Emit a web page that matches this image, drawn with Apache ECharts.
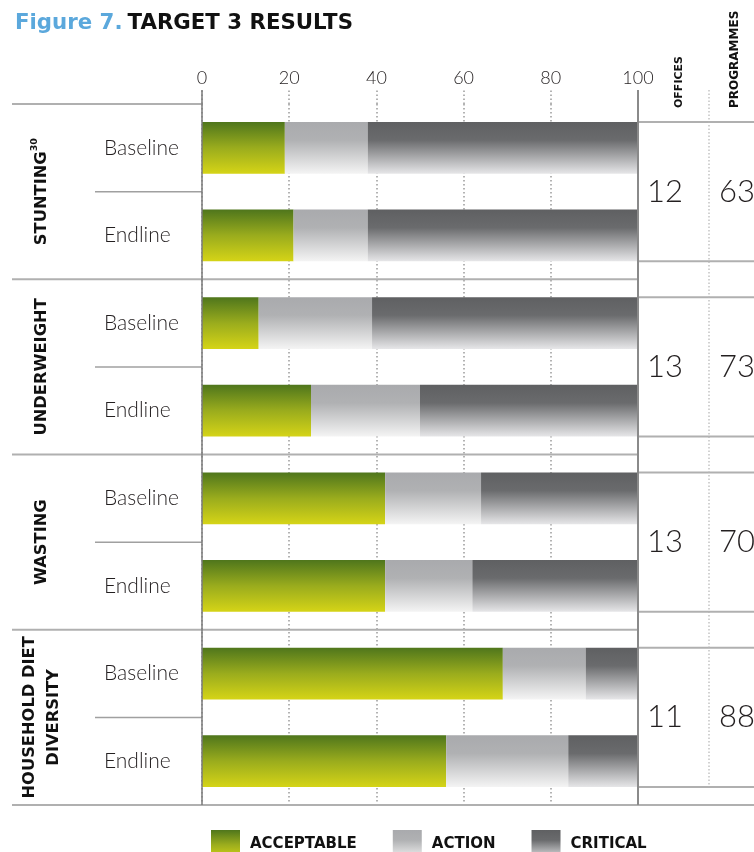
<!DOCTYPE html>
<html><head><meta charset="utf-8">
<script src="https://cdn.jsdelivr.net/npm/echarts@6/dist/echarts.min.js"></script>
<style>html,body{margin:0;padding:0;background:#fff}#c{width:754px;height:852px}</style>
</head><body><div id="c"></div>
<script>
// ---- data ----
const groups = ['STUNTING', 'UNDERWEIGHT', 'WASTING', 'HOUSEHOLD DIET\nDIVERSITY'];
const groupNotes = ['30', '', '', ''];
const rows = ['Baseline', 'Endline'];
const acceptable = [19, 21, 13, 25, 42, 42, 69, 56];
const action = [19, 17, 26, 25, 22, 20, 19, 28];
const critical = [62, 62, 61, 50, 36, 38, 12, 16];
const offices = [12, 13, 13, 11];
const programmes = [63, 73, 70, 88];
const tableHeaders = ['OFFICES', 'PROGRAMMES'];
const seriesNames = ['ACCEPTABLE', 'ACTION', 'CRITICAL'];

const yCats = [];
groups.forEach(g => rows.forEach(r => yCats.push(g + '|' + r)));

function grad(stops) {
  return new echarts.graphic.LinearGradient(0, 0, 0, 1, stops.map(s => ({offset: s[0], color: s[1]})));
}
const colors = [
  grad([[0, '#4f761c'], [0.5, '#9aac1d'], [1, '#d5d417']]),
  grad([[0, '#a9aaad'], [0.35, '#b0b1b3'], [1, '#f4f4f4']]),
  grad([[0, '#5f6062'], [0.35, '#6a6b6d'], [1, '#e6e6e8']])
];
const values = [acceptable, action, critical];

const FONT = 'Lato, "Open Sans", sans-serif';
const BOLD = '"DejaVu Sans", sans-serif';
const chart = echarts.init(document.getElementById('c'), null, {renderer: 'canvas'});

chart.setOption({
  animation: false,
  title: {
    text: '{a|Figure 7.} {b|TARGET 3 RESULTS}',
    left: 10, top: 8,
    textStyle: {rich: {
      a: {color: '#5ba8dc', fontSize: 21.3, fontWeight: 'bold', fontFamily: BOLD},
      b: {color: '#111', fontSize: 21.3, fontWeight: 'bold', fontFamily: BOLD}
    }}
  },
  legend: {
    data: seriesNames, left: 206, top: 825, itemWidth: 29, itemHeight: 29, itemGap: 36,
    icon: 'rect', selectedMode: false,
    textStyle: {fontSize: 15, fontWeight: 'bold', fontFamily: BOLD, color: '#111', padding: [2, 0, 0, 5]}
  },
  grid: {left: 202, right: 116, top: 104, bottom: 47, containLabel: false},
  xAxis: {
    type: 'value', position: 'top', min: 0, max: 100, interval: 20,
    axisLine: {show: false},
    axisTick: {show: true, length: 14, lineStyle: {color: '#9a9a9a', width: 1.5, type: [1.5, 2.5]}},
    splitLine: {show: true, lineStyle: {color: '#9a9a9a', width: 1.5, type: [1.5, 2.5]}},
    axisLabel: {fontSize: 18, fontFamily: FONT, fontWeight: 300, color: '#231f20', margin: 17}
  },
  yAxis: {
    type: 'category', data: yCats, inverse: true,
    axisLine: {show: false}, axisTick: {show: false}, splitLine: {show: false},
    axisLabel: {formatter: v => v.split('|')[1], align: 'left', margin: 98, fontSize: 21,
      fontFamily: FONT, fontWeight: 300, color: '#231f20'}
  },
  series: seriesNames.map((n, i) => ({
    type: 'bar', name: n, stack: 'total', data: values[i], barWidth: '59%',
    itemStyle: {color: colors[i]}, silent: true, z: 3
  }))
});

// ---- decorations positioned through the axes ----
const yc = i => chart.convertToPixel({yAxisIndex: 0}, i);
const xc = v => chart.convertToPixel({xAxisIndex: 0}, v);
const step = yc(1) - yc(0);
const half = step * 0.59 / 2;
const x0 = xc(0), x100 = xc(100);
const yTop = yc(0) - step / 2;
const yBot = yc(yCats.length - 1) + step / 2;
const W = 754;
const g = [];
const line = (x1, y1, x2, y2, stroke, lw, dash) => g.push({
  type: 'line', silent: true, z: 10,
  shape: {x1, y1, x2, y2}, style: {stroke, lineWidth: lw, lineDash: dash || null}
});

// section boundaries
for (let k = 0; k <= groups.length; k++) {
  const y = yc(2 * k) - step / 2;
  let xEnd = x100;
  if (k === 0) xEnd = x0;
  if (k === groups.length) xEnd = W;
  line(12, y, xEnd, y, '#b0b0b0', 2);
}
// row separators inside groups
for (let k = 0; k < groups.length; k++) {
  const y = yc(2 * k) + step / 2;
  line(95, y, x0, y, '#a0a0a0', 1.5);
  // right table lines at bar top / bottom
  line(x100, yc(2 * k) - half, W, yc(2 * k) - half, '#b0b0b0', 2);
  line(x100, yc(2 * k + 1) + half, W, yc(2 * k + 1) + half, '#b0b0b0', 2);
}
// verticals
line(x0, yTop - 14, x0, yBot, '#7a7a7a', 1.5);
line(x100, yTop - 14, x100, yBot, '#8a8a8a', 2);
const xDiv = x100 + 71;
line(xDiv, yTop - 14, xDiv, yc(yCats.length - 1) + half, '#b5b5b5', 1.2, [1.5, 2]);

// group labels
groups.forEach((name, k) => {
  const cy = (yc(2 * k) + yc(2 * k + 1)) / 2;
  const note = groupNotes[k];
  g.push({
    type: 'text', silent: true, z: 10, x: 42, y: cy, rotation: Math.PI / 2,
    style: {
      text: note ? '{m|' + name + '}{s|' + note + '}' : name,
      fontSize: 16.3, fontWeight: 'bold', fontFamily: BOLD, fill: '#111',
      align: 'center', verticalAlign: 'middle', lineHeight: 24,
      rich: {m: {fontSize: 16.3, fontWeight: 'bold', fontFamily: BOLD, fill: '#111', lineHeight: 24},
             s: {fontSize: 9.5, fontWeight: 'bold', fontFamily: BOLD, fill: '#111', verticalAlign: 'top', lineHeight: 24}}
    }
  });
  const tStyle = {fontSize: 31, fontWeight: 300, fontFamily: FONT, fill: '#231f20', align: 'center', verticalAlign: 'middle'};
  g.push({type: 'text', silent: true, z: 10, x: x100 + 27, y: cy, style: Object.assign({text: String(offices[k])}, tStyle)});
  g.push({type: 'text', silent: true, z: 10, x: W - 17, y: cy, style: Object.assign({text: String(programmes[k])}, tStyle)});
});
// table headers
[[x100 + 41, tableHeaders[0], 11], [W - 19, tableHeaders[1], 12]].forEach(([x, t, fs]) => g.push({
  type: 'text', silent: true, z: 10, x, y: yTop + 4, rotation: Math.PI / 2,
  style: {text: t, fontSize: fs, fontWeight: 'bold', fontFamily: BOLD, fill: '#111', align: 'left', verticalAlign: 'middle'}
}));

chart.setOption({graphic: {elements: g}});
</script>
</body></html>
